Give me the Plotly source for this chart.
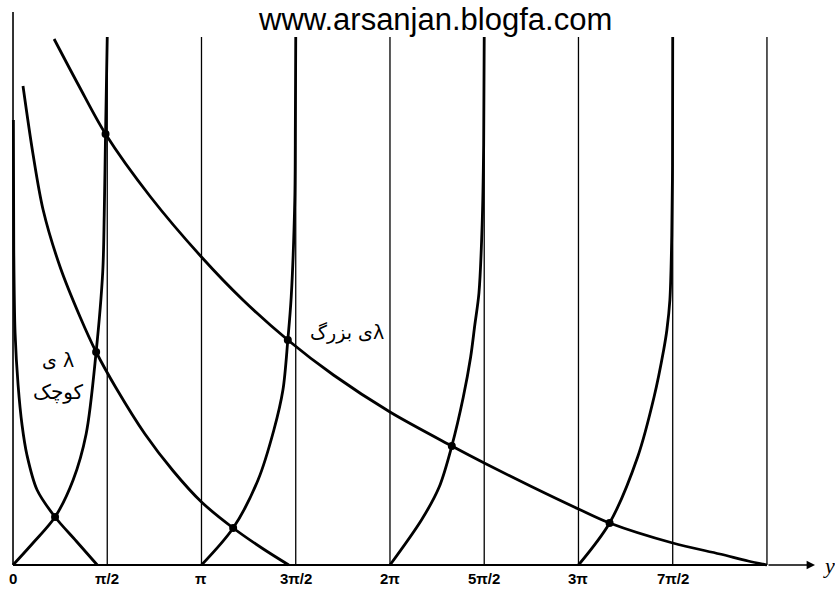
import plotly.graph_objects as go

# Horizontal positions are in units of pi; vertical values are in arbitrary units.
tick_vals = [0, 0.5, 1, 1.5, 2, 2.5, 3, 3.5]
tick_text = ["0", "π/2", "π", "3π/2", "2π", "5π/2", "3π", "7π/2"]
guide_vals = [0.5, 1, 1.5, 2, 2.5, 3, 3.5, 4.0]
guide_top = 5.28
axis_top = 5.53

# tan branches, each rising from n*pi towards the asymptote at (n + 1/2)*pi
tan1_x = [0.0, 0.106, 0.223, 0.319, 0.388, 0.441, 0.476, 0.484, 0.491, 0.5]
tan1_v = [0.0, 0.22, 0.48, 0.85, 1.31, 2.13, 2.93, 3.50, 4.31, 5.28]

tan2_x = [1.0, 1.168, 1.300, 1.384, 1.432, 1.458, 1.476, 1.495, 1.498, 1.5]
tan2_v = [0.0, 0.37, 0.85, 1.35, 1.75, 2.25, 2.68, 3.65, 4.40, 5.28]

tan3_x = [2.0, 2.167, 2.261, 2.328, 2.389, 2.428, 2.45, 2.472, 2.489, 2.497, 2.5]
tan3_v = [0.0, 0.45, 0.78, 1.19, 1.68, 2.08, 2.40, 2.72, 3.40, 4.20, 5.28]

tan4_x = [3.0, 3.165, 3.314, 3.401, 3.452, 3.469, 3.485, 3.495, 3.499, 3.5]
tan4_v = [0.0, 0.42, 1.08, 1.68, 2.15, 2.35, 2.65, 3.30, 4.00, 5.28]

# decreasing curves for small, medium and large lambda
small_x = [0.002, 0.004, 0.011, 0.027, 0.048, 0.074, 0.128, 0.223, 0.335, 0.447]
small_v = [4.45, 3.15, 2.32, 1.80, 1.40, 1.10, 0.75, 0.48, 0.24, 0.0]

mid_x = [0.053, 0.106, 0.160, 0.250, 0.356, 0.441, 0.55, 0.70, 0.85, 1.0, 1.168, 1.32, 1.463]
mid_v = [4.79, 4.11, 3.55, 2.98, 2.48, 2.13, 1.76, 1.31, 0.94, 0.63, 0.37, 0.17, 0.0]

big_x = [0.218, 0.35, 0.491, 0.73, 1.0, 1.22, 1.458, 1.70, 2.0, 2.328, 2.5, 2.75,
         3.0, 3.165, 3.5, 3.75, 3.9, 4.0]
big_v = [5.26, 4.79, 4.31, 3.68, 3.08, 2.65, 2.25, 1.90, 1.53, 1.19, 1.02, 0.785,
         0.56, 0.42, 0.22, 0.11, 0.04, 0.0]

# intersection points (roots)
root_x = [0.491, 0.441, 0.223, 1.168, 1.458, 2.328, 3.165]
root_v = [4.31, 2.13, 0.48, 0.37, 2.25, 1.19, 0.42]

ink = "black"
fig = go.Figure()

curves = [(tan1_x, tan1_v), (tan2_x, tan2_v), (tan3_x, tan3_v), (tan4_x, tan4_v),
          (small_x, small_v), (mid_x, mid_v), (big_x, big_v)]
for cx, cv in curves:
    fig.add_trace(go.Scatter(x=cx, y=cv, mode="lines",
                             line=dict(color=ink, width=2.8, shape="spline", smoothing=0.9),
                             hoverinfo="skip", showlegend=False))

fig.add_trace(go.Scatter(x=root_x, y=root_v, mode="markers",
                         marker=dict(color=ink, size=8), hoverinfo="skip", showlegend=False))

shapes = [dict(type="line", xref="x", yref="y", x0=0, x1=0, y0=0, y1=axis_top,
               line=dict(color=ink, width=1.6))]
for gx in guide_vals:
    shapes.append(dict(type="line", xref="x", yref="y", x0=gx, x1=gx, y0=0, y1=guide_top,
                       line=dict(color=ink, width=1.3)))
shapes.append(dict(type="line", xref="x", yref="y", x0=0, x1=4.0, y0=0, y1=0,
                   line=dict(color=ink, width=2)))

annotations = []
# arrow tip of the horizontal axis
annotations.append(dict(x=4.255, y=0, ax=4.0, ay=0, xref="x", yref="y", axref="x", ayref="y",
                        text="", showarrow=True, arrowhead=2, arrowsize=1.2, arrowwidth=1.4,
                        arrowcolor=ink))
annotations.append(dict(x=4.33, y=0.0, xref="x", yref="y", text="<i>y</i>", showarrow=False,
                        font=dict(family="Liberation Serif", size=22, color=ink)))
for tv, tt in zip(tick_vals, tick_text):
    annotations.append(dict(x=tv, y=-0.13, xref="x", yref="y", text="<b>" + tt + "</b>",
                            showarrow=False,
                            font=dict(family="Liberation Sans Narrow, Liberation Sans", size=15, color=ink)))

annotations.append(dict(x=2.239, y=5.46, xref="x", yref="y", text="www.arsanjan.blogfa.com",
                        showarrow=False, font=dict(family="Liberation Sans, Arial", size=31, color=ink)))
annotations.append(dict(x=0.239, y=2.05, xref="x", yref="y", text="ی λ", showarrow=False,
                        font=dict(family="DejaVu Sans", size=19, color=ink)))
annotations.append(dict(x=0.239, y=1.73, xref="x", yref="y", text="کوچک", showarrow=False,
                        font=dict(family="DejaVu Sans", size=20, color=ink)))
annotations.append(dict(x=1.772, y=2.33, xref="x", yref="y", text="ی بزرگλ", showarrow=False,
                        font=dict(family="DejaVu Sans", size=19, color=ink)))

fig.update_layout(
    width=835, height=589,
    margin=dict(l=0, r=0, t=0, b=0),
    paper_bgcolor="white", plot_bgcolor="white",
    xaxis=dict(range=[-0.069, 4.361], visible=False, fixedrange=True),
    yaxis=dict(range=[-0.24, 5.65], visible=False, fixedrange=True),
    shapes=shapes, annotations=annotations,
)

fig.write_html("out.html")
